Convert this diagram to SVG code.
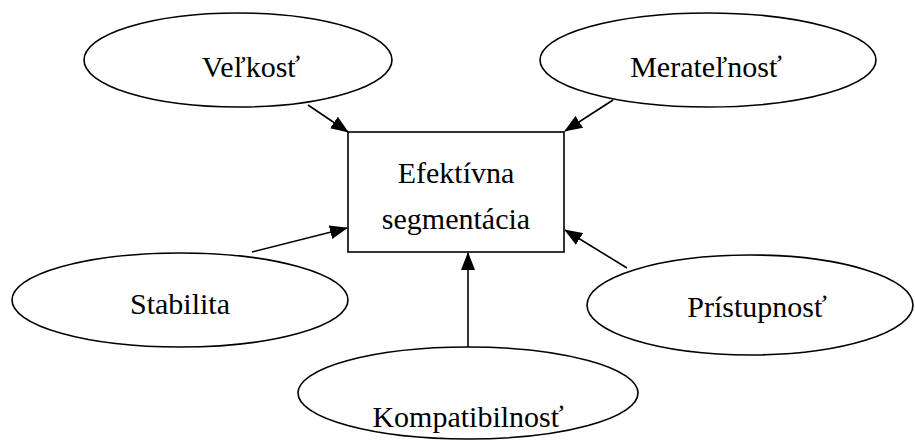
<svg xmlns="http://www.w3.org/2000/svg" width="915" height="441" viewBox="0 0 915 441">
<style>
.n{fill:#fff;stroke:#000;stroke-width:1.6}
.t{font-family:"Liberation Serif","Times New Roman",serif;font-size:30px;fill:#000;text-anchor:middle}
.c{stroke:#000;stroke-width:1.6;fill:none;marker-end:url(#ah)}
</style>
<defs>
<marker id="ah" markerUnits="userSpaceOnUse" markerWidth="18" markerHeight="14" viewBox="0 0 18 14" refX="17" refY="7" orient="auto">
<path d="M0,0 L18,7 L0,14 Z" fill="#000"/>
</marker>
</defs>
<g id="connectors">
<line class="c" x1="308" y1="105" x2="348" y2="132"/>
<line class="c" x1="613" y1="100" x2="565" y2="131"/>
<line class="c" x1="252" y1="252" x2="347" y2="228"/>
<line class="c" x1="627" y1="268" x2="565" y2="230"/>
<line class="c" x1="468" y1="347" x2="468" y2="253"/>
</g>
<g id="center">
<rect class="n" x="348" y="132" width="216" height="120"/>
<text class="t" x="456" y="183">Efektívna</text>
<text class="t" x="456" y="229">segmentácia</text>
</g>
<g id="velkost">
<ellipse class="n" cx="238" cy="60" rx="154" ry="47"/>
<text class="t" x="251" y="77">Veľkosť</text>
</g>
<g id="meratelnost">
<ellipse class="n" cx="708" cy="60" rx="168" ry="47"/>
<text class="t" x="706" y="77">Merateľnosť</text>
</g>
<g id="stabilita">
<ellipse class="n" cx="180" cy="300" rx="168" ry="47"/>
<text class="t" x="180" y="314">Stabilita</text>
</g>
<g id="pristupnost">
<ellipse class="n" cx="750" cy="305" rx="163" ry="50"/>
<text class="t" x="757" y="317">Prístupnosť</text>
</g>
<g id="kompatibilnost">
<ellipse class="n" cx="468" cy="393" rx="170" ry="46"/>
<text class="t" x="468" y="427">Kompatibilnosť</text>
</g>
</svg>
